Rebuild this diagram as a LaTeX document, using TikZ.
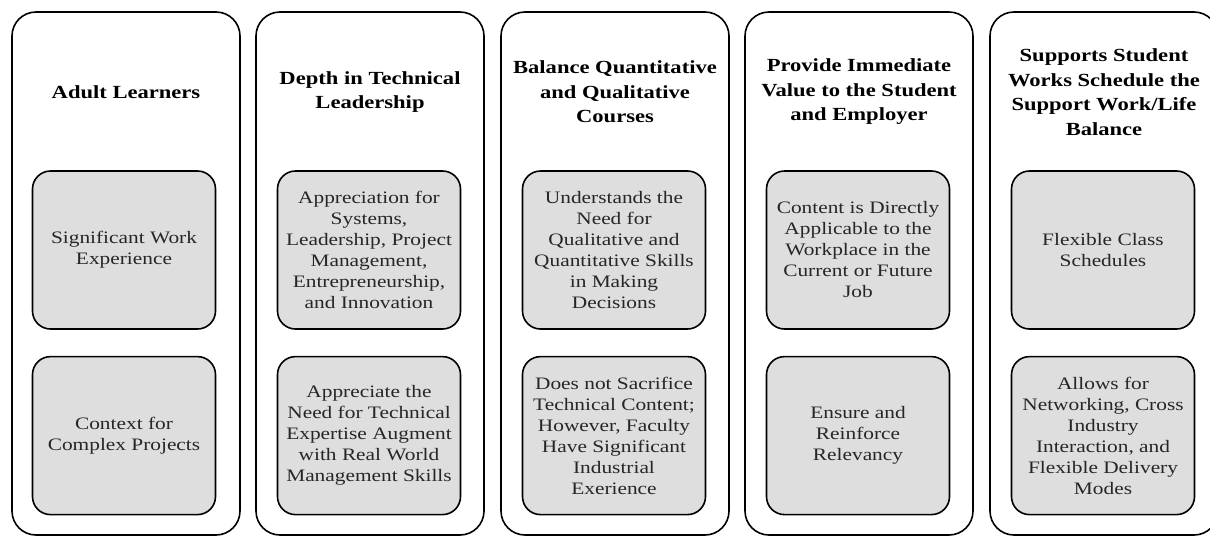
\documentclass[tikz,border=0pt]{standalone}
\usepackage{fontspec}
\setmainfont{Liberation Serif}[FakeStretch=1.22]
\usetikzlibrary{positioning}
\tikzset{column/.style={draw,line width=1.6pt,rounded corners=24pt,minimum width=228pt,minimum height=523pt,inner sep=0pt}}
\tikzset{heading/.style={align=center,font=\fontsize{18.5}{24.5}\selectfont\bfseries}}
\tikzset{item/.style={draw,line width=1.6pt,rounded corners=18pt,fill=black!13,minimum width=183pt,minimum height=158pt,inner sep=2pt,align=center,font=\fontsize{17.5}{21}\selectfont,text=black!85}}

\begin{document}
\begin{tikzpicture}[x=1pt,y=-1pt,node distance=26pt]
  \clip (0,0) rectangle (1210,536);
  \node[column] (c1) at (126,273.5) {};
  \node[column] (c2) at (370,273.5) {};
  \node[column] (c3) at (615,273.5) {};
  \node[column] (c4) at (859,273.5) {};
  \node[column] (c5) at (1104,273.5) {};

  \node[heading] (h1) at (126,92) {Adult Learners};
  \node[heading] (h2) at (370,92) {Depth in Technical\\Leadership};
  \node[heading] (h3) at (615,92) {Balance Quantitative\\and Qualitative\\Courses};
  \node[heading] (h4) at (859,92) {Provide Immediate\\Value to the Student\\and Employer};
  \node[heading] (h5) at (1104,92) {Supports Student\\Works Schedule the\\Support Work/Life\\Balance};

  \node[item] (a1) at (124,250) {Significant Work\\Experience};
  \node[item] (b1) [below=of a1] {Context for\\Complex Projects};
  \node[item] (a2) at (369,250) {Appreciation for\\Systems,\\Leadership, Project\\Management,\\Entrepreneurship,\\and Innovation};
  \node[item] (b2) [below=of a2] {Appreciate the\\Need for Technical\\Expertise Augment\\with Real World\\Management Skills};
  \node[item] (a3) at (614,250) {Understands the\\Need for\\Qualitative and\\Quantitative Skills\\in Making\\Decisions};
  \node[item] (b3) [below=of a3] {Does not Sacrifice\\Technical Content;\\However, Faculty\\Have Significant\\Industrial\\Exerience};
  \node[item] (a4) at (858,250) {Content is Directly\\Applicable to the\\Workplace in the\\Current or Future\\Job};
  \node[item] (b4) [below=of a4] {Ensure and\\Reinforce\\Relevancy};
  \node[item] (a5) at (1103,250) {Flexible Class\\Schedules};
  \node[item] (b5) [below=of a5] {Allows for\\Networking, Cross\\Industry\\Interaction, and\\Flexible Delivery\\Modes};
\end{tikzpicture}
\end{document}
